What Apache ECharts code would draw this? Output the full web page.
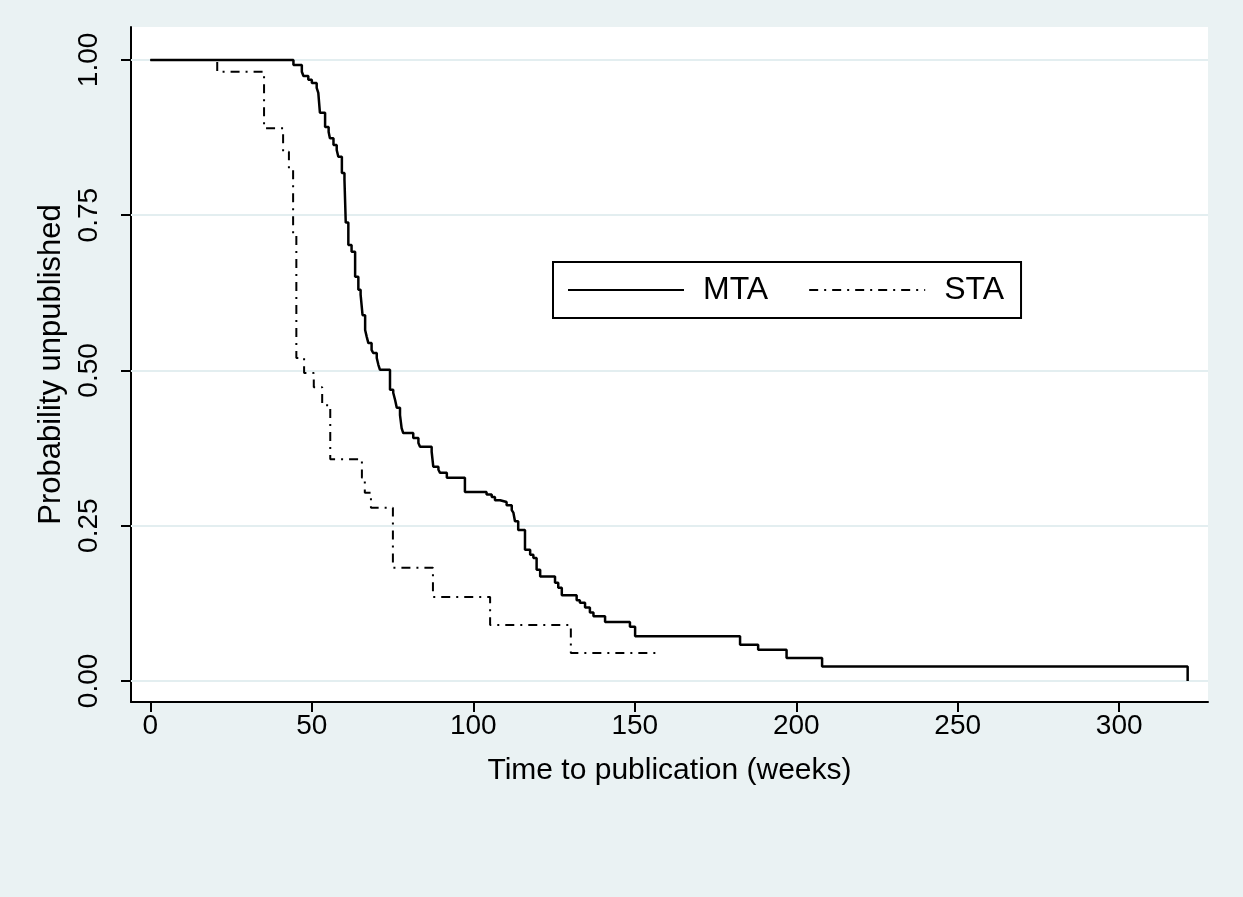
<!DOCTYPE html>
<html>
<head>
<meta charset="utf-8">
<title>Time to publication</title>
<script src="https://cdn.jsdelivr.net/npm/echarts@6.0.0/dist/echarts.min.js"></script>
<style>
  html, body { margin: 0; padding: 0; background: #eaf2f3; }
  #chart { width: 1243px; height: 897px; }
</style>
</head>
<body>
<div id="chart"></div>
<script>
// Kaplan-Meier steps: time (weeks) and probability after that time
const mtaWeeks = [0, 44.3, 46.9, 47.4, 48.9, 50.0, 51.5, 52.0, 52.5, 54.1, 55.2, 55.6, 56.7, 57.7, 58.2,
  59.3, 60.1, 60.5, 61.3, 62.3, 63.4, 64.4, 65.1, 65.7, 66.5, 67.0, 67.5, 68.5, 69.0, 70.1, 70.6, 71.1,
  74.2, 75.2, 75.8, 76.3, 77.3, 77.8, 78.3, 81.4, 83.0, 83.5, 87.1, 87.6, 89.2, 89.7, 91.8, 97.4,
  104.1, 105.7, 106.7, 108.3, 110.3, 111.9, 112.4, 112.9, 113.9, 116.0, 117.6, 118.6, 119.6, 120.7,
  125.3, 126.3, 127.4, 132.0, 133.0, 134.6, 136.1, 137.2, 140.8, 148.5, 150.1, 182.6, 188.2, 197.0,
  208.0, 321.2]
const mtaSurv = [1, 0.992, 0.981, 0.974, 0.968, 0.963, 0.955, 0.947, 0.915, 0.892, 0.884, 0.874, 0.863, 0.855, 0.844,
  0.818, 0.807, 0.738, 0.702, 0.691, 0.651, 0.630, 0.622, 0.589, 0.565, 0.554, 0.544, 0.533, 0.528, 0.520, 0.509, 0.501,
  0.469, 0.464, 0.452, 0.440, 0.428, 0.407, 0.399, 0.391, 0.383, 0.377, 0.369, 0.345, 0.340, 0.335, 0.327, 0.304,
  0.300, 0.296, 0.291, 0.288, 0.283, 0.275, 0.271, 0.257, 0.243, 0.211, 0.203, 0.198, 0.179, 0.168,
  0.158, 0.150, 0.138, 0.130, 0.126, 0.118, 0.110, 0.104, 0.095, 0.087, 0.072, 0.058, 0.050, 0.037,
  0.023, 0]

const staWeeks = [0, 20.7, 35.2, 41.1, 42.9, 44.2, 45.2, 47.6, 50.6, 53.2, 55.7, 65.5, 66.4, 68.3, 75.1,
  87.5, 105.2, 130.2, 156.5]
const staSurv = [1, 0.981, 0.890, 0.852, 0.823, 0.72, 0.520, 0.496, 0.473, 0.444, 0.357, 0.327, 0.303, 0.279, 0.182,
  0.135, 0.090, 0.045, 0.045]

const xTicks = [0, 50, 100, 150, 200, 250, 300]
const yTicks = [0, 0.25, 0.5, 0.75, 1]

const seriesNames = ['MTA', 'STA']

let chart = echarts.init(document.getElementById('chart'))

const pairs = (xs, ys) => xs.map((x, i) => [x, ys[i]])
const font = 'Liberation Sans, Arial, sans-serif'

chart.setOption({
  backgroundColor: '#eaf2f3',
  animation: false,
  textStyle: { fontFamily: font, color: '#000' },
  grid: {
    left: 131,
    right: 35,
    top: 27,
    bottom: 195,
    show: true,
    backgroundColor: '#ffffff',
    borderWidth: 0,
  },
  legend: {
    data: seriesNames,
    left: 553,
    top: 262,
    orient: 'horizontal',
    backgroundColor: '#ffffff',
    borderColor: '#000',
    borderWidth: 2,
    borderRadius: 0,
    padding: [11, 17, 11, 14],
    itemWidth: 116,
    itemHeight: 14,
    itemGap: 40,
    // line only, no marker in the key
    itemStyle: { opacity: 0 },
    textStyle: {
      fontFamily: font,
      fontSize: 32,
      color: '#000',
      padding: [0, 0, 0, 14],
      lineHeight: 34,
    },
  },
  xAxis: {
    type: 'value',
    min: -6,
    max: 327.5,
    name: 'Time to publication (weeks)',
    nameLocation: 'middle',
    nameGap: 54,
    nameTextStyle: { fontSize: 30, color: '#000', fontFamily: font },
    axisLine: { show: true, onZero: false, lineStyle: { color: '#000', width: 2 } },
    axisTick: { show: true, length: 10, customValues: xTicks, lineStyle: { color: '#000', width: 2 } },
    axisLabel: {
      customValues: xTicks,
      margin: 10,
      fontSize: 28,
      color: '#000',
      fontFamily: font,
    },
    splitLine: { show: false },
  },
  yAxis: {
    type: 'value',
    min: -0.034,
    max: 1.053,
    name: 'Probability unpublished',
    nameLocation: 'middle',
    nameRotate: 90,
    nameGap: 56,
    nameTextStyle: { fontSize: 31, color: '#000', fontFamily: font },
    axisLine: { show: true, onZero: false, lineStyle: { color: '#000', width: 2 } },
    axisTick: { show: true, length: 10, customValues: yTicks, lineStyle: { color: '#000', width: 2 } },
    axisLabel: {
      customValues: yTicks,
      rotate: 90,
      margin: 28,
      fontSize: 28,
      color: '#000',
      fontFamily: font,
      formatter: (v) => v.toFixed(2),
    },
    splitLine: { show: false },
  },
  series: [
    {
      // horizontal grid lines at the tick values
      type: 'line',
      data: [],
      silent: true,
      markLine: {
        silent: true,
        symbol: 'none',
        z: 1,
        label: { show: false },
        lineStyle: { color: '#e3eef0', width: 2, type: 'solid' },
        data: yTicks.map((v) => ({ yAxis: v })),
      },
    },
    {
      name: 'MTA',
      type: 'line',
      step: 'end',
      symbol: 'none',
      z: 3,
      data: pairs(mtaWeeks, mtaSurv),
      lineStyle: { color: '#000', width: 2.5, type: 'solid' },
      itemStyle: { color: '#000' },
    },
    {
      name: 'STA',
      type: 'line',
      step: 'end',
      symbol: 'none',
      z: 3,
      data: pairs(staWeeks, staSurv),
      lineStyle: { color: '#000', width: 2, type: [9, 6, 2, 6] },
      itemStyle: { color: '#000' },
    },
  ],
})
</script>
</body>
</html>
